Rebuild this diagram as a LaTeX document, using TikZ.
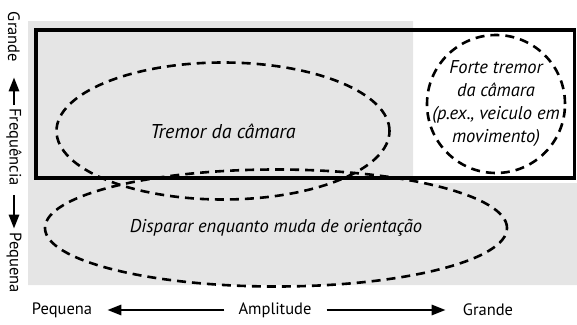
\documentclass[tikz,border=0pt]{standalone}
\usepackage{fontspec}
\setmainfont{PT Sans}
\usetikzlibrary{shapes.geometric, arrows.meta}

\begin{document}
\begin{tikzpicture}[
    x=1pt, y=-1pt,
    >={Triangle[length=14pt,width=10pt]},
    zone/.style={draw, ellipse, line width=2.6pt, dash pattern=on 9pt off 6pt, inner sep=0pt},
    zonetext/.style={align=center, font=\itshape\fontsize{18.5}{23}\selectfont, inner sep=0pt},
    axislabel/.style={font=\fontsize{16.5}{20}\selectfont, inner sep=0pt},
    axisarrow/.style={->, line width=2.8pt}
]
\useasboundingbox (0,0) rectangle (577,324);

% Background
\fill[black!10] (28,21) -- (413,21) -- (413,183) -- (577,183) -- (577,285) -- (28,285) -- cycle;

% Zones
\node[zone, minimum width=333pt, minimum height=137pt] (tremor) at (223,131) {};
\node[zonetext, font=\itshape\fontsize{20}{23}\selectfont] at (tremor) {Tremor da câmara};
\node[zone, minimum width=462pt, minimum height=117pt] (disparar) at (276,228) {};
\node[zonetext] at (disparar) {Disparar enquanto muda de orientação};
\node[zone, minimum width=138pt, minimum height=138pt] (forte) at (496,104) {};
\node[zonetext] at (forte) {Forte tremor\\da câmara\\(p.ex., veiculo em\\movimento)};

% Frame
\draw[line width=3.2pt] (36,30) rectangle (574.5,178);

% Frequency axis
\node[axislabel, rotate=-90] (fbig) at (14,37) {Grande};
\node[axislabel, rotate=-90] (freq) at (14,147) {Frequência};
\node[axislabel, rotate=-90] (fsmall) at (14,263) {Pequena};
\draw[axisarrow, shorten <=3pt, shorten >=15pt] (freq.west) -- (fbig.east);
\draw[axisarrow, shorten <=9pt, shorten >=4pt] (freq.east) -- (fsmall.west);

% Amplitude axis
\node[axislabel] (asmall) at (62,310) {Pequena};
\node[axislabel] (ampl) at (275,310) {Amplitude};
\node[axislabel] (abig) at (488,310) {Grande};
\draw[axisarrow, shorten <=14pt, shorten >=15pt] (ampl.west) -- (asmall.east);
\draw[axisarrow, shorten <=15pt, shorten >=17pt] (ampl.east) -- (abig.west);

\end{tikzpicture}
\end{document}
